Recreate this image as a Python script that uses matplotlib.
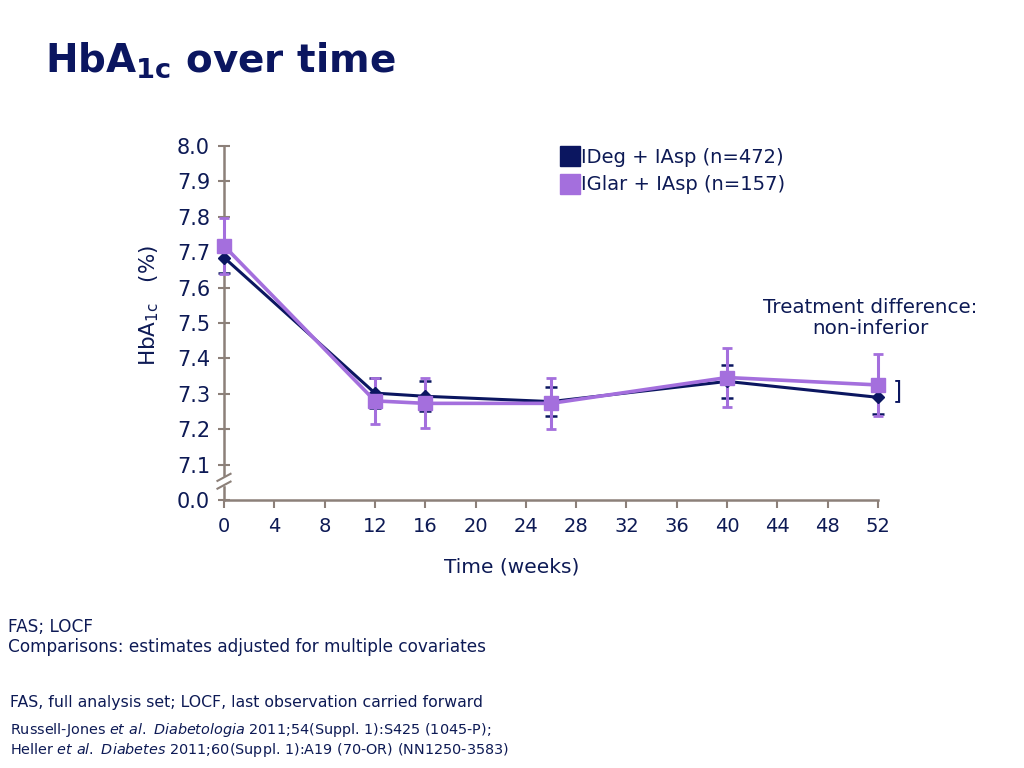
import numpy as np
import matplotlib
matplotlib.use("Agg")
import matplotlib.pyplot as plt
from matplotlib.lines import Line2D

# data
weeks = [0, 12, 16, 26, 40, 52]
ideg = [7.685, 7.302, 7.293, 7.278, 7.335, 7.290]
ideg_err = [0.045, 0.043, 0.042, 0.042, 0.047, 0.047]
iglar = [7.718, 7.280, 7.273, 7.273, 7.346, 7.325]
iglar_err = [0.080, 0.066, 0.071, 0.073, 0.082, 0.087]

yticks = [7.0, 7.1, 7.2, 7.3, 7.4, 7.5, 7.6, 7.7, 7.8, 7.9, 8.0]
ytick_labels = ['0.0', '7.1', '7.2', '7.3', '7.4', '7.5', '7.6', '7.7', '7.8', '7.9', '8.0']
xticks = list(range(0, 53, 4))

navy = '#0b1660'
purple = '#a46fdd'
axis_grey = '#8c8079'
text_navy = '#0d1a55'

plt.rcParams['font.family'] = ['DejaVu Sans']

fig = plt.figure(figsize=(10.24, 7.68), dpi=100)
ax = fig.add_axes([224/1024, 1 - 500/768, 654/1024, 354/768])

# error bars: IDeg underneath, IGlar on top
eb1 = ax.errorbar(weeks, ideg, yerr=ideg_err, fmt='none', ecolor=navy,
                  elinewidth=1.2, capsize=4, capthick=1.8, zorder=2)
eb2 = ax.errorbar(weeks, iglar, yerr=iglar_err, fmt='none', ecolor=purple,
                  elinewidth=2.2, capsize=3.5, capthick=2, zorder=3)
for eb in (eb1, eb2):
    for part in eb.lines[1] + eb.lines[2]:
        part.set_clip_on(False)
ax.plot(weeks, ideg, color=navy, lw=2.2, marker='D', ms=6, zorder=4,
        clip_on=False)
ax.plot(weeks, iglar, color=purple, lw=2.6, marker='s', ms=10, zorder=5,
        clip_on=False)

# bracket next to the week-52 difference
ax.annotate(']', xy=(weeks[-1], (ideg[-1] + iglar[-1]) / 2), xytext=(14, 0),
            textcoords='offset points', ha='center', va='center',
            fontsize=17, color=navy, annotation_clip=False)

ax.set_xlim(0, 52)
ax.set_ylim(7.0, 8.0)
ax.set_xticks(xticks)
ax.set_yticks(yticks)
ax.set_yticklabels(ytick_labels)

for side in ['top', 'right']:
    ax.spines[side].set_visible(False)
for side in ['left', 'bottom']:
    ax.spines[side].set_color(axis_grey)
    ax.spines[side].set_linewidth(1.8)
ax.tick_params(axis='y', direction='inout', length=8, width=1.5,
               color=axis_grey, labelsize=15, labelcolor=text_navy, pad=6)
ax.tick_params(axis='x', direction='out', length=6, width=1.5,
               color=axis_grey, labelsize=14, labelcolor=text_navy, pad=6)

# axis break marks
ax.fill_between([-0.012, 0.012], 0.042, 0.066, color='white',
                transform=ax.transAxes, clip_on=False, zorder=6)
for yb in [0.040, 0.062]:
    ax.plot([-0.010, 0.010], [yb - 0.008, yb + 0.012], color=axis_grey,
            lw=1.5, transform=ax.transAxes, clip_on=False, zorder=7)

ax.set_xlabel('Time (weeks)', fontsize=14.5, color=text_navy)
ax.xaxis.set_label_coords(0.44, -0.162)
ax.set_ylabel(r'HbA$_{\mathregular{1c}}$   (%)', fontsize=15.5,
              color=text_navy)
ax.yaxis.set_label_coords(-0.097, 0.55)

handles = [Line2D([], [], ls='none', marker='s', ms=14, color=navy),
           Line2D([], [], ls='none', marker='s', ms=14, color=purple)]
ax.legend(handles, ['IDeg + IAsp (n=472)', 'IGlar + IAsp (n=157)'],
          loc='upper left', bbox_to_anchor=(0.49, 1.045), frameon=False,
          fontsize=14, handlelength=0.8, handletextpad=0.2,
          labelspacing=0.45, labelcolor=text_navy)

ax.text(0.988, 0.514, 'Treatment difference:\nnon-inferior', transform=ax.transAxes,
        ha='center', va='center', fontsize=14.3, color=text_navy,
        linespacing=1.15)

fig.text(45/1024, 1 - 60/768, r'HbA$_{\mathbf{1c}}$ over time', fontsize=28,
         fontweight='bold', color=navy, va='center')

fig.text(8/1024, 1 - 637/768, 'FAS; LOCF\nComparisons: estimates adjusted for multiple covariates',
         fontsize=12.2, color=text_navy, va='center', linespacing=1.1)
fig.text(10/1024, 1 - 702/768, 'FAS, full analysis set; LOCF, last observation carried forward',
         fontsize=11.3, color=text_navy, va='center')
fig.text(10/1024, 1 - 740/768,
         'Russell-Jones $\\it{et\\ al.\\ Diabetologia}$ 2011;54(Suppl. 1):S425 (1045-P);\n'
         'Heller $\\it{et\\ al.\\ Diabetes}$ 2011;60(Suppl. 1):A19 (70-OR) (NN1250-3583)',
         fontsize=10.4, color=text_navy, va='center', linespacing=1.15)

fig.savefig('out.png', dpi=100)
